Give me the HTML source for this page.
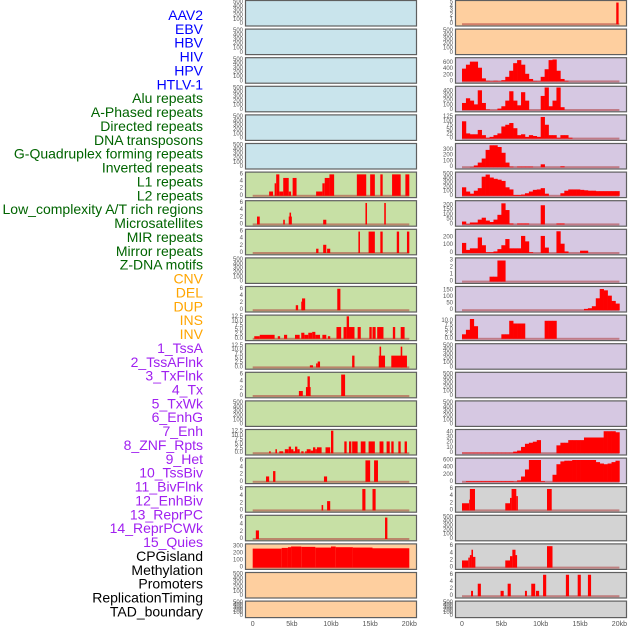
<!DOCTYPE html>
<html><head><meta charset="utf-8">
<style>
html,body{margin:0;padding:0;background:#fff;}
svg{display:block;font-family:"Liberation Sans",sans-serif;}
</style></head>
<body>
<svg id="chart" width="630" height="630" viewBox="0 0 630 630" xmlns="http://www.w3.org/2000/svg"></svg>
<script>
// ---- labels ----
const labels = ["AAV2","EBV","HBV","HIV","HPV","HTLV-1","Alu repeats","A-Phased repeats","Directed repeats","DNA transposons","G-Quadruplex forming repeats","Inverted repeats","L1 repeats","L2 repeats","Low_complexity A/T rich regions","Microsatellites","MIR repeats","Mirror repeats","Z-DNA motifs","CNV","DEL","DUP","INS","INV","1_TssA","2_TssAFlnk","3_TxFlnk","4_Tx","5_TxWk","6_EnhG","7_Enh","8_ZNF_Rpts","9_Het","10_TssBiv","11_BivFlnk","12_EnhBiv","13_ReprPC","14_ReprPCWk","15_Quies","CPGisland","Methylation","Promoters","ReplicationTiming","TAD_boundary"];
const labelGroups = [6,13,5,15,5];
const groupColors = ["#0000ff","#006400","#ffa500","#a020f0","#000000"];
const xTickValues = [0,5,10,15,20];
const xTickLabels = ["0","5kb","10kb","15kb","20kb"];

// ---- left column panels: segments [startKb, endKb, value] ----
const L6 = [[2.1,2.6,1.2],[2.8,3.0,3.5],[3.0,3.4,6],[3.4,3.9,1.2],[3.9,4.6,5],[4.6,4.9,1.2],[5.1,5.6,5],[8.1,8.9,1.2],[8.9,9.2,3.5],[9.2,9.8,5],[9.8,10.4,6],[13.3,14.5,6],[15.0,15.6,6],[16.3,16.6,6],[17.8,18.9,6],[19.5,20,6]];
const L7 = [[0.55,0.9,2.2],[3.9,4.1,1.3],[4.6,5.0,2.2],[4.7,4.9,3.3],[9.0,9.4,1.3],[14.4,14.6,6],[16.8,17.0,6]];
const L8 = [[8.1,8.4,1.2],[9.0,9.4,2.3],[9.5,9.9,1.2],[13.5,13.7,6],[14.8,15.6,6],[16.3,16.6,6],[18.4,18.7,6],[19.7,20,6]];
const L10 = [[5.5,5.8,1.4],[6.2,6.5,2.4],[6.3,6.7,3.3],[10.8,11.2,6]];
const L11 = [[0.2,0.9,1.5],[0.9,2.8,2.3],[3.2,3.5,1.5],[4.0,4.4,2.3],[5.4,6.0,2.3],[6.2,6.6,3.5],[6.6,7.1,2.3],[7.1,7.6,3.5],[7.6,8.0,4.0],[8.0,8.6,2.3],[8.9,9.4,2.3],[9.6,9.9,1.5],[10.7,11.3,6.8],[11.6,12.0,6.8],[12.0,12.3,13],[12.3,13.0,6.8],[13.4,13.8,6.8],[14.9,15.2,6.8],[15.3,15.7,6.8],[15.9,16.7,6.8],[17.9,18.2,6.8],[18.9,19.4,6.8]];
const L12 = [[7.3,7.7,1.2],[8.1,8.3,2.3],[8.3,8.6,3.4],[12.7,13.0,6.8],[16.1,16.9,6.8],[16.2,16.4,12],[17.7,19.7,6.8],[18.9,19.1,12]];
const L13 = [[5.9,6.4,1.4],[6.8,7.4,2.5],[7.0,7.3,5.5],[11.3,11.8,6]];
const L15 = [[2.1,2.3,1.1],[2.9,3.1,2.3],[3.4,3.9,1.1],[4.1,4.6,2.3],[4.6,4.9,3.8],[4.9,5.2,2.3],[5.2,5.4,1.1],[5.4,5.7,3.8],[5.7,6.0,2.3],[6.2,6.5,1.1],[6.7,6.9,1.1],[6.9,7.4,2.3],[7.4,7.7,1.5],[7.7,8.0,3.4],[8.0,8.2,2.3],[8.2,8.8,3.4],[9.3,9.9,3.4],[10.0,10.3,13],[11.7,12.0,6.8],[12.3,12.6,6.8],[12.7,13.4,6.8],[13.8,14.4,6.8],[14.8,15.6,6.8],[16.2,16.7,6.8],[17.1,17.5,6.8],[17.7,18.0,6.8],[18.6,18.9,6.8],[19.4,19.7,6.8]];
const L16 = [[1.7,2.1,1.5],[2.6,2.9,3],[9.1,9.5,1.5],[14.4,15.0,6],[15.5,16.0,6]];
const L17 = [[8.8,9.0,1.5],[9.5,9.9,2.6],[14.0,14.4,6],[15.3,15.7,6]];
const L18 = [[0.4,0.8,2.4],[16.9,17.2,6]];
const L19 = [[0,3.7,270],[3.7,4.5,280],[4.5,4.9,290],[4.9,6.2,300],[6.2,8.0,295],[8.0,10.0,285],[10.0,10.6,300],[10.6,12.8,290],[12.8,15.3,285],[15.3,20,275]];

// ---- right column panels: 0.5kb bins (40 values) or segments ----
const R0 = [[19.6,19.9,5]];
const R2 = [420,550,650,650,450,100,20,10,20,10,40,150,350,600,700,550,250,80,15,10,150,400,700,720,350,80,20,0,0,0,0,0,0,0,0,0,0,0,0,0];
const R3 = [150,250,200,120,420,150,10,0,0,30,80,200,400,200,100,380,200,0,0,0,300,480,80,200,480,60,0,0,0,0,0,0,0,0,0,0,0,0,0,0];
const R4 = [100,30,25,25,50,20,5,10,20,30,70,80,90,60,20,25,10,20,15,10,125,80,20,20,5,20,20,5,0,0,0,0,0,0,0,0,0,0,0,0];
const R5 = [0,0,5,30,80,150,300,380,380,350,250,80,10,0,10,10,10,10,0,0,50,0,0,0,0,15,0,0,0,0,0,0,0,0,0,0,0,0,0,0];
const R6 = [200,100,50,120,180,450,500,430,400,380,350,200,150,20,20,30,60,100,140,150,180,50,0,0,0,60,120,150,150,150,140,130,120,120,110,110,110,110,110,110];
const R7 = [30,5,20,20,50,70,40,25,50,100,220,150,10,0,10,10,10,0,0,0,200,0,0,0,10,10,0,0,0,0,0,0,0,0,0,0,0,0,0,0];
const R8 = [130,40,60,60,200,100,10,10,20,50,100,180,60,60,60,220,150,10,0,0,220,70,0,0,280,120,20,0,0,0,30,30,0,0,0,0,0,0,0,0];
const R9 = [0,0,0,0,0,0,0,0.7,0.7,3,3,0,0,0,0,0,0,0,0,0,0,0,0,0,0,0,0,0,0,0,0,0,0,0,0,0,0,0,0,0];
const R10 = [0,0,0,0,0,0,0,0,0,0,0,0,0,0,0,0,0,0,0,0,0,0,0,0,0,0,0,0,0,0,0,10,15,30,90,160,150,110,70,50];
const R11 = [2.5,5,11,7,0,0,0,0,0,0,2.5,2.5,10,8.5,8.5,8.5,0,0,0,0,0,10,10,10,0,0,0,0,0,0,0,0,0,0,0,0,0,0,0,0];
const R15 = [1,1,1,1,1,1,1,1,1,1,1,1,1,3,5,12,18,20,22,25,0,0,0,0,15,20,20,25,25,25,25,30,30,30,30,30,42,42,42,40];
const R16 = [0,20,20,20,20,20,20,20,20,20,20,20,20,10,40,150,350,620,620,620,20,0,0,200,500,580,600,600,620,620,620,620,620,620,560,520,500,520,560,600];
const R17 = [[0,0.9,2],[0.9,1.0,3],[1.0,1.65,6],[5.5,6.1,2],[6.1,6.3,3.5],[6.3,6.9,6],[6.9,7.1,4],[10.8,11.4,6]];
const R19 = [[0,0.8,2],[0.8,1.0,2.8],[1.0,1.2,3.5],[1.2,1.4,5],[1.4,1.7,3],[5.5,6.1,2],[6.1,6.4,3.2],[6.4,6.8,5],[6.8,7.0,3.5],[10.8,11.5,6]];
const R20 = [[1.15,1.4,1.5],[2.0,2.4,3.5],[4.9,5.3,1.5],[5.8,6.2,3.5],[8.0,8.25,1.5],[8.8,9.3,3.5],[9.4,9.8,1.5],[10.3,10.7,6],[13.2,13.6,6],[14.7,15.1,6],[16.0,16.4,6]];

// ---- tick sets ----
const T500 = [0,100,200,300,400,500];
const T6 = [0,2,4,6];
const T125 = [0,2.5,5,7.5,10,12.5];

const BLUE="#c9e4ec", GREEN="#c7e0a5", ORANGE="#fecf9f", PURPLE="#d6c8e2", GRAY="#d3d3d3";
// [fill, ymax, ticks, data, type]
const leftPanels = [
 [BLUE,520,T500,null],[BLUE,520,T500,null],[BLUE,520,T500,null],[BLUE,520,T500,null],[BLUE,520,T500,null],[BLUE,520,T500,null],
 [GREEN,6.3,T6,L6,"seg"],[GREEN,6.3,T6,L7,"seg"],[GREEN,6.3,T6,L8,"seg"],[GREEN,520,T500,null],
 [GREEN,6.3,T6,L10,"seg"],[GREEN,13,T125,L11,"seg"],[GREEN,13,T125,L12,"seg"],[GREEN,6.3,T6,L13,"seg"],
 [GREEN,520,T500,null],[GREEN,13,T125,L15,"seg"],[GREEN,6.3,T6,L16,"seg"],[GREEN,6.3,T6,L17,"seg"],[GREEN,6.3,T6,L18,"seg"],
 [ORANGE,320,[0,100,200,300],L19,"seg"],[ORANGE,520,T500,null],[ORANGE,520,T500,null]
];
const rightPanels = [
 [ORANGE,5.2,[0,1,2,3,4,5],R0,"seg"],[ORANGE,520,T500,null],
 [PURPLE,740,[0,200,400,600],R2,"bin"],[PURPLE,480,[0,100,200,300,400],R3,"bin"],[PURPLE,130,[0,25,50,75,100,125],R4,"bin"],
 [PURPLE,390,[0,100,200,300],R5,"bin"],[PURPLE,530,T500,R6,"bin"],[PURPLE,235,[0,50,100,150,200],R7,"bin"],
 [PURPLE,290,[0,100,200],R8,"bin"],[PURPLE,3.2,[0,1,2,3],R9,"bin"],[PURPLE,170,[0,50,100,150],R10,"bin"],
 [PURPLE,12.5,[0,2.5,5,7.5,10],R11,"bin"],[PURPLE,520,T500,null],[PURPLE,520,T500,null],[PURPLE,520,T500,null],
 [PURPLE,43,[0,10,20,30,40],R15,"bin"],[PURPLE,640,[0,200,400,600],R16,"bin"],
 [GRAY,6.3,T6,R17,"seg"],[GRAY,520,T500,null],[GRAY,6.3,T6,R19,"seg"],[GRAY,6.3,T6,R20,"seg"],[GRAY,520,T500,null]
];

const NS="http://www.w3.org/2000/svg";
const svg=document.getElementById("chart");
function mk(tag,attrs,parent){const e=document.createElementNS(NS,tag);for(const k in attrs)e.setAttribute(k,attrs[k]);(parent||svg).appendChild(e);return e;}

// labels
let gi=0,cnt=0;
const lg=mk("g",{});


labels.forEach((t,j)=>{
  while(cnt>=labelGroups[gi]){cnt=0;gi++;}
  cnt++;
  const e=mk("text",{x:203,y:15+j*13.87,"text-anchor":"end","dominant-baseline":"central","font-size":"14",fill:groupColors[gi]},lg);
  
  
  e.textContent=t;
});

const cols=[{panels:leftPanels,px0:245.5,px1:416.5,x0:252.7,k:7.83,name:"left"},
            {panels:rightPanels,px0:455.5,px1:626.5,x0:462,k:7.87,name:"right"}];
cols.forEach(c=>{
  const xs=kb=>c.x0+kb*c.k;
  c.panels.forEach((p,i)=>{
    const top=0.5+i*28.6, h=(i===21)?16.5:25.5, bot=top+h;
    const g=mk("g",{});
    
    
    const bg=mk("rect",{x:c.px0,y:top,width:c.px1-c.px0,height:h,fill:p[0],stroke:"#5f5f5f","stroke-width":1.2},g);
    
    
    const ymax=p[1], y0=bot-1.8, y1=top+1.2;
    const ys=v=>y0-(v/ymax)*(y0-y1);
    const dec=p[2].some(v=>v%1!==0);
    p[2].forEach(v=>{
      const t=mk("text",{x:c.px0-2.5,y:ys(v),"text-anchor":"end","dominant-baseline":"central","font-size":"6",fill:"#555"},g);
      
      
      t.textContent=dec?v.toFixed(1):String(v);
    });
    if(p[3]){
      const base=mk("rect",{x:xs(0),y:y0-1,width:xs(20)-xs(0),height:2,fill:"rgba(175,60,60,0.55)"},g);
      
      
      if(p[4]==="seg"){
        p[3].forEach(s=>{
          const r=mk("rect",{x:xs(s[0]),y:ys(s[2]),width:Math.max(0.8,xs(s[1])-xs(s[0])),height:y0-ys(s[2]),fill:"#ff0000"},g);
          
          
        });
      } else {
        p[3].forEach((v,b)=>{
          if(v<=0) return;
          const r=mk("rect",{x:xs(b*0.5),y:ys(v),width:xs(0.5)-xs(0)+0.3,height:y0-ys(v),fill:"#ff0000"},g);
          
          
        });
      }
    }
  });
  xTickValues.forEach((v,j)=>{
    const t=mk("text",{x:xs(v),y:626,"text-anchor":"middle","font-size":"7",fill:"#555"});
    
    
    t.textContent=xTickLabels[j];
  });
});
</script>
</body></html>
